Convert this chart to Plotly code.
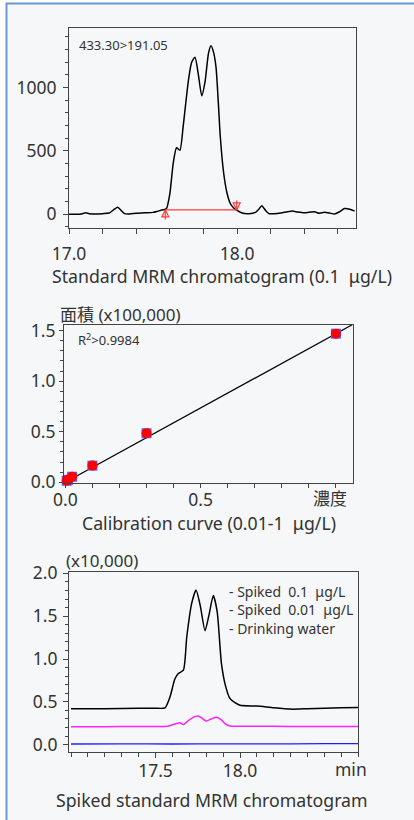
import plotly.graph_objects as go

# ---------------- data ----------------
# Panel 1: standard MRM chromatogram (0.1 ug/L), 433.30>191.05
std_time = [17.00, 17.05, 17.08, 17.10, 17.12, 17.16, 17.20, 17.24, 17.27, 17.29, 17.31, 17.33,
            17.36, 17.40, 17.45, 17.50, 17.53, 17.56, 17.58, 17.60, 17.62, 17.64, 17.66, 17.68,
            17.71, 17.73, 17.75, 17.77, 17.79, 17.81, 17.83, 17.845, 17.86, 17.875, 17.89, 17.90,
            17.92, 17.94, 17.96, 17.98, 18.00, 18.03, 18.07, 18.11, 18.13, 18.147, 18.17, 18.19,
            18.22, 18.26, 18.30, 18.33, 18.36, 18.40, 18.44, 18.46, 18.49, 18.52, 18.55, 18.58,
            18.61, 18.64, 18.67, 18.70]
std_int = [0, 0, 5, 12, 5, 2, 5, 10, 40, 55, 30, 5,
           2, 8, 12, 15, 25, 35, 45, 160, 400, 525, 505, 700,
           1050, 1200, 1240, 1100, 935, 1050, 1270, 1330, 1280, 1160, 850, 620,
           330, 170, 85, 50, 30, 10, 5, 15, 40, 68, 30, 5,
           5, 10, 20, 25, 18, 12, 18, 20, 8, 15, 10, 2,
           20, 45, 40, 25]
integ_time = [17.573, 17.998]
integ_int = [34, 34]

# Panel 2: calibration curve
cal_conc = [0.005, 0.01, 0.025, 0.1, 0.3, 1.0]
cal_area = [0.015, 0.025, 0.055, 0.165, 0.485, 1.47]
fit_conc = [0.0, 1.06]
fit_area = [0.0, 1.558]
conc_label = "濃度"
conc_label_pos = 0.978

# Panel 3: spiked standard chromatograms (x10,000)
sp_time = [17.00, 17.20, 17.40, 17.50, 17.556, 17.586, 17.615, 17.635, 17.665, 17.685, 17.714,
           17.74, 17.765, 17.793, 17.815, 17.842, 17.865, 17.89, 17.915, 17.94, 17.97, 18.00,
           18.10, 18.20, 18.30, 18.40, 18.50, 18.60, 18.70]
sp_high = [0.42, 0.42, 0.425, 0.425, 0.43, 0.56, 0.77, 0.83, 0.87, 1.26, 1.65,
           1.805, 1.62, 1.33, 1.50, 1.74, 1.55, 0.95, 0.68, 0.54, 0.49, 0.46,
           0.45, 0.43, 0.415, 0.42, 0.425, 0.43, 0.435]
sp_low_time = [17.00, 17.20, 17.40, 17.55, 17.585, 17.62, 17.645, 17.665, 17.70, 17.735, 17.753,
               17.775, 17.80, 17.83, 17.862, 17.89, 17.915, 17.94, 18.00, 18.20, 18.40, 18.60, 18.70]
sp_low = [0.21, 0.21, 0.212, 0.212, 0.22, 0.245, 0.257, 0.235, 0.29, 0.33, 0.335,
          0.31, 0.277, 0.30, 0.32, 0.29, 0.24, 0.218, 0.215, 0.215, 0.212, 0.212, 0.212]
blank_time = [17.00, 17.30, 17.60, 17.90, 18.20, 18.50, 18.70]
blank = [0.008, 0.010, 0.008, 0.010, 0.009, 0.012, 0.013]

# ---------------- layout helpers ----------------
W, H = 414, 820
def px(x):
    return x / W
def py(y):
    return 1 - y / H

FONT = "Noto Sans, Noto Sans CJK JP, sans-serif"
TXT = "#333333"
BG = "#f6f7f8"
RED = "#ff3a3a"
ARROW_LEN = 75  # stem length of integration marks, in intensity units
TICK_SIZE = 17.5
TITLE_SIZE = 17.7

fig = go.Figure()

# Panel 1
fig.add_trace(go.Scatter(x=std_time, y=std_int, mode="lines", line=dict(color="black", width=1.5, shape="spline", smoothing=0.6),
                         xaxis="x", yaxis="y", showlegend=False))
fig.add_trace(go.Scatter(x=integ_time, y=integ_int, mode="lines", line=dict(color=RED, width=1.2),
                         xaxis="x", yaxis="y", showlegend=False))
stem_x = [integ_time[0], integ_time[0], None, integ_time[1], integ_time[1]]
stem_y = [integ_int[0] - ARROW_LEN, integ_int[0], None, integ_int[1] + ARROW_LEN, integ_int[1]]
fig.add_trace(go.Scatter(x=stem_x, y=stem_y, mode="lines", line=dict(color=RED, width=1.2),
                         xaxis="x", yaxis="y", showlegend=False))
fig.add_trace(go.Scatter(x=integ_time, y=integ_int, mode="markers",
                         marker=dict(symbol=["arrow-up-open", "arrow-down-open"], size=7,
                                     color=RED, line=dict(color=RED, width=1.2)),
                         xaxis="x", yaxis="y", showlegend=False))
# Panel 2
fig.add_trace(go.Scatter(x=fit_conc, y=fit_area, mode="lines", line=dict(color="black", width=1.3),
                         xaxis="x2", yaxis="y2", showlegend=False))
fig.add_trace(go.Scatter(x=cal_conc, y=cal_area, mode="markers",
                         marker=dict(symbol="square", size=10, color="#5b5bff", line=dict(width=0)),
                         xaxis="x2", yaxis="y2", showlegend=False, cliponaxis=False))
fig.add_trace(go.Scatter(x=cal_conc, y=cal_area, mode="markers",
                         marker=dict(symbol="circle", size=10, color="#ff0000", line=dict(width=0)),
                         xaxis="x2", yaxis="y2", showlegend=False, cliponaxis=False))
# Panel 3
fig.add_trace(go.Scatter(x=blank_time, y=blank, mode="lines", line=dict(color="#1f1fff", width=1.3, shape="spline"),
                         xaxis="x3", yaxis="y3", showlegend=False))
fig.add_trace(go.Scatter(x=sp_low_time, y=sp_low, mode="lines", line=dict(color="#ff22ff", width=1.5, shape="spline", smoothing=0.7),
                         xaxis="x3", yaxis="y3", showlegend=False))
fig.add_trace(go.Scatter(x=sp_time, y=sp_high, mode="lines", line=dict(color="black", width=1.5, shape="spline", smoothing=0.6),
                         xaxis="x3", yaxis="y3", showlegend=False))

axis_common = dict(showline=True, linecolor="#444444", linewidth=1, mirror=True, showgrid=False,
                   zeroline=False, ticks="outside", tickcolor="#444444", tickwidth=1, automargin=False,
                   tickfont=dict(family=FONT, size=TICK_SIZE, color=TXT), fixedrange=True)

def mk(**kw):
    d = dict(axis_common)
    d.update(kw)
    return d

fig.update_layout(
    width=W, height=H,
    margin=dict(l=0, r=0, t=0, b=0),
    paper_bgcolor="white",
    plot_bgcolor=BG,
    font=dict(family=FONT, color=TXT),
    xaxis=mk(domain=[px(69), px(356)], range=[17.0, 18.708], anchor="y",
             tickmode="array", tickvals=[17.0, 18.0], ticktext=["17.0", "18.0"], ticklen=5,
             ticklabelstandoff=5,
             minor=dict(tickmode="array", tickvals=[17.2, 17.4, 17.6, 17.8, 18.2, 18.4, 18.6],
                        ticks="outside", ticklen=5, tickcolor="#444444")),
    yaxis=mk(domain=[py(227.7), py(27.7)], range=[-106, 1473], anchor="x",
             tickmode="array", tickvals=[0, 500, 1000], ticktext=["0", "500", "1000"], ticklen=5,
             ticklabelstandoff=3,
             minor=dict(dtick=100, tick0=0, ticks="outside", ticklen=3, tickcolor="#444444")),
    xaxis2=mk(domain=[px(64), px(352.7)], range=[-0.005, 1.062], anchor="y2",
              tickmode="array", tickvals=[0, 0.5], ticktext=["0.0", "0.5"], ticklen=4,
              ticklabelstandoff=-3,
              minor=dict(dtick=0.1, tick0=0, ticks="outside", ticklen=4, tickcolor="#444444")),
    yaxis2=mk(domain=[py(483.3), py(325)], range=[-0.01, 1.556], anchor="x2",
              tickmode="array", tickvals=[0, 0.5, 1.0, 1.5], ticktext=["0.0", "0.5", "1.0", "1.5"], ticklen=4,
              ticklabelstandoff=0,
              minor=dict(dtick=0.1, tick0=0, ticks="outside", ticklen=3, tickcolor="#444444")),
    xaxis3=mk(domain=[px(69), px(358.3)], range=[16.988, 18.70], anchor="y3",
              tickmode="array", tickvals=[17.5, 18.0], ticktext=["17.5", "18.0"], ticklen=5,
              ticklabelstandoff=-2,
              minor=dict(dtick=0.1, tick0=17.0, ticks="outside", ticklen=4, tickcolor="#444444")),
    yaxis3=mk(domain=[py(752.3), py(571.7)], range=[-0.089, 2.019], anchor="x3",
              tickmode="array", tickvals=[0, 0.5, 1.0, 1.5, 2.0], ticktext=["0.0", "0.5", "1.0", "1.5", "2.0"],
              ticklen=5, ticklabelstandoff=2,
              minor=dict(dtick=0.1, tick0=0, ticks="outside", ticklen=3, tickcolor="#444444")),
)

# outer frame
fig.add_shape(type="rect", xref="paper", yref="paper", x0=px(6.5), x1=px(425), y0=py(835), y1=py(3.5),
              line=dict(color="#6b98d4", width=2), fillcolor=BG, layer="below")

ann = []
def text(x, y, s, size=TITLE_SIZE, xanchor="center"):
    ann.append(dict(xref="paper", yref="paper", x=px(x), y=py(y), text=s, showarrow=False,
                    xanchor=xanchor, yanchor="middle", font=dict(family=FONT, size=size, color=TXT)))

text(77, 44.5, "433.30>191.05", size=13, xanchor="left")
text(221.7, 275.5, "Standard MRM chromatogram (0.1\u00a0\u00a0μg/L)")
text(57.5, 314, "面積 (x100,000)", size=17, xanchor="left")
text(76, 340, "R<sup>2</sup>>0.9984", size=13, xanchor="left")
text(208.8, 523, "Calibration curve (0.01-1\u00a0\u00a0μg/L)")
text(64, 560.5, "(x10,000)", size=17, xanchor="left")
text(226.5, 591.5, "- Spiked\u00a0\u00a00.1\u00a0\u00a0μg/L", size=14, xanchor="left")
text(226.5, 609.8, "- Spiked\u00a0\u00a00.01\u00a0\u00a0μg/L", size=14, xanchor="left")
text(226.5, 628.3, "- Drinking water", size=14, xanchor="left")
text(350.7, 769, "min", size=TICK_SIZE)
text(211.7, 800, "Spiked standard MRM chromatogram")
# concentration axis end label
ann.append(dict(xref="x2", yref="paper", x=conc_label_pos, y=py(498), text=conc_label, showarrow=False,
                xanchor="center", yanchor="middle", font=dict(family=FONT, size=17, color=TXT)))

fig.update_layout(annotations=ann)
fig.write_html("out.html", config={"displayModeBar": False},
               post_script="document.body.style.margin='0';document.body.style.overflow='hidden';")
